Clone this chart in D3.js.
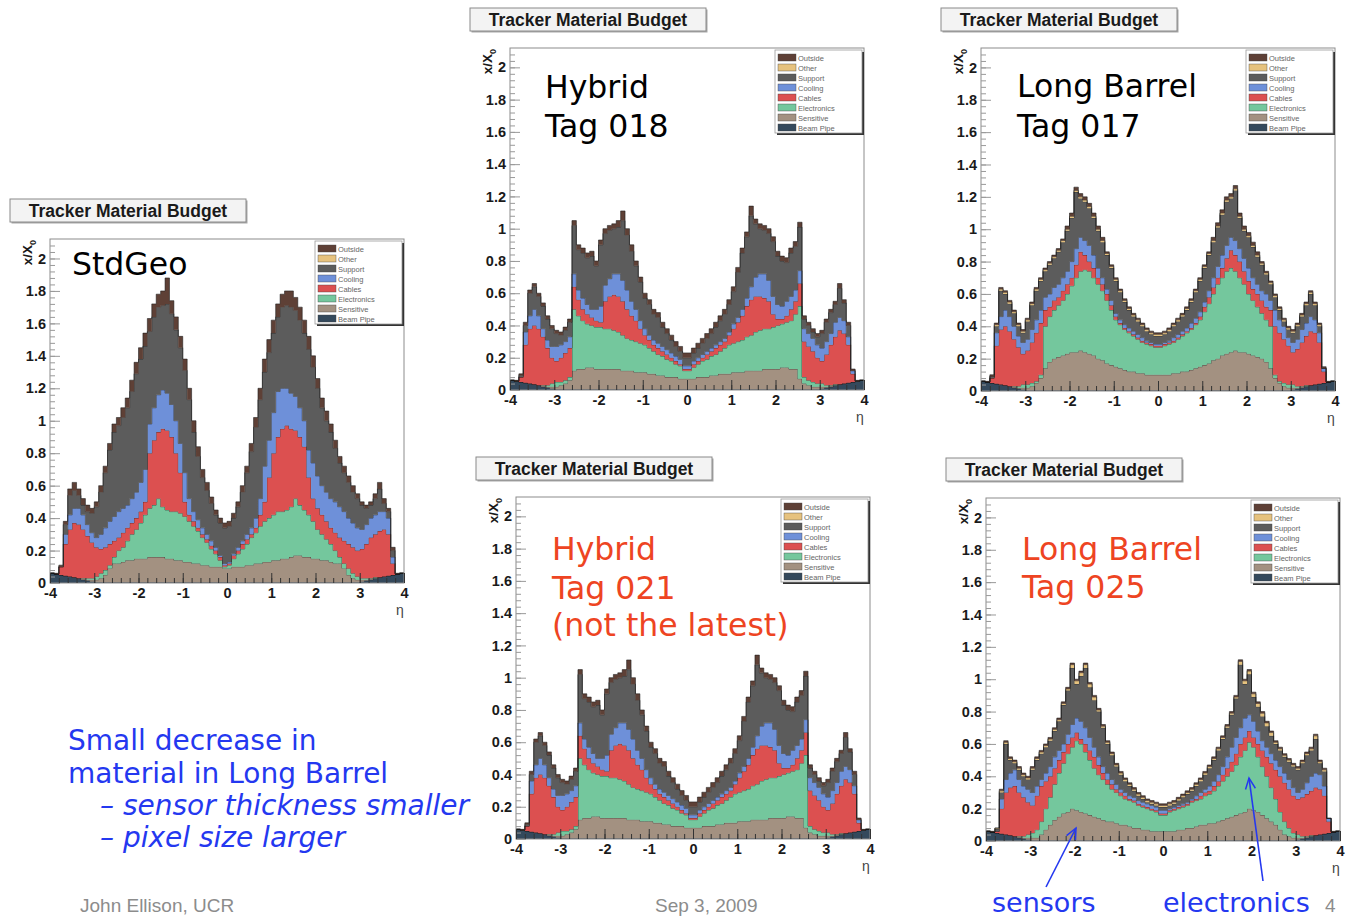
<!DOCTYPE html>
<html>
<head>
<meta charset="utf-8">
<script src="https://cdn.jsdelivr.net/npm/d3@7"></script>
<style>
  body { margin: 0; background: #fff; }
  svg { display: block; }
</style>
</head>
<body>
<div id="chart"></div>
<script>
// histogram binning: 80 bins of 0.1 in eta, from -4 to 4
const etaMin = -4, binStep = 0.1, nBins = 80;

// layer stacking order (bottom to top) and legend order (top to bottom)
const layerNames = ["Beam Pipe", "Sensitive", "Electronics", "Cables", "Cooling", "Support", "Other", "Outside"];
const layerColors = ["#34495c", "#a39181", "#74c79d", "#dc5050", "#6e90d9", "#5c5c5c", "#e6c27e", "#5e4036"];
const legendNames = ["Outside", "Other", "Support", "Cooling", "Cables", "Electronics", "Sensitive", "Beam Pipe"];

const yTicks = [0, 0.2, 0.4, 0.6, 0.8, 1, 1.2, 1.4, 1.6, 1.8, 2];
const xTicks = [-4, -3, -2, -1, 0, 1, 2, 3, 4];

// cumulative tops of each layer (x/X0), one row per unit of eta
const beamPipe = [
  0.06,0.055,0.05,0.045,0.04,0.035,0.03,0.02,0.015,0.01,
  0.005,0.005,0.005,0.005,0.005,0.005,0.005,0.005,0.005,0.005,
  0.005,0.005,0.005,0.005,0.005,0.005,0.005,0.005,0.005,0.005,
  0.005,0.005,0.005,0.005,0.005,0.005,0.005,0.005,0.005,0.005,
  0.005,0.005,0.005,0.005,0.005,0.005,0.005,0.005,0.005,0.005,
  0.005,0.005,0.005,0.005,0.005,0.005,0.005,0.005,0.005,0.005,
  0.005,0.005,0.005,0.005,0.005,0.005,0.005,0.005,0.005,0.005,
  0.01,0.015,0.02,0.03,0.035,0.04,0.045,0.05,0.055,0.06];

// StdGeo
const stdSens = [
  0.06,0.055,0.05,0.045,0.04,0.035,0.03,0.025,0.02,0.02,
  0.02,0.03,0.05,0.09,0.12,0.12,0.13,0.14,0.14,0.15,
  0.15,0.15,0.16,0.16,0.16,0.16,0.15,0.15,0.14,0.14,
  0.13,0.13,0.12,0.12,0.11,0.11,0.1,0.1,0.1,0.09,
  0.09,0.1,0.1,0.1,0.11,0.11,0.12,0.12,0.13,0.13,
  0.14,0.14,0.15,0.15,0.16,0.17,0.17,0.16,0.16,0.15,
  0.15,0.14,0.14,0.13,0.12,0.12,0.09,0.05,0.03,0.02,
  0.02,0.02,0.025,0.03,0.035,0.04,0.045,0.05,0.055,0.06];
const stdElec = [
  0.06,0.055,0.05,0.045,0.04,0.035,0.03,0.03,0.03,0.03,
  0.04,0.06,0.08,0.11,0.16,0.2,0.22,0.26,0.3,0.33,
  0.37,0.42,0.46,0.48,0.52,0.47,0.45,0.44,0.44,0.43,
  0.41,0.38,0.35,0.32,0.28,0.25,0.21,0.18,0.14,0.1,
  0.11,0.15,0.18,0.21,0.24,0.28,0.31,0.35,0.38,0.4,
  0.42,0.44,0.44,0.45,0.47,0.52,0.48,0.45,0.42,0.38,
  0.33,0.3,0.27,0.24,0.2,0.16,0.12,0.09,0.06,0.04,
  0.03,0.03,0.03,0.035,0.035,0.04,0.045,0.05,0.055,0.06];
const stdCab = [
  0.06,0.055,0.1,0.24,0.33,0.37,0.36,0.33,0.29,0.25,
  0.22,0.21,0.22,0.24,0.26,0.28,0.31,0.34,0.37,0.4,
  0.44,0.5,0.8,0.88,0.93,0.95,0.94,0.9,0.8,0.68,
  0.5,0.42,0.38,0.34,0.3,0.27,0.23,0.2,0.16,0.11,
  0.12,0.17,0.2,0.24,0.27,0.3,0.34,0.42,0.5,0.65,
  0.8,0.9,0.95,0.97,0.95,0.94,0.9,0.84,0.65,0.52,
  0.46,0.42,0.38,0.34,0.31,0.28,0.26,0.24,0.22,0.2,
  0.21,0.24,0.28,0.3,0.32,0.33,0.3,0.12,0.055,0.06];
const stdCool = [
  0.06,0.055,0.1,0.3,0.42,0.46,0.46,0.42,0.36,0.31,
  0.28,0.3,0.34,0.38,0.41,0.44,0.46,0.48,0.52,0.56,
  0.62,0.7,0.98,1.08,1.16,1.19,1.17,1.1,1.0,0.86,
  0.68,0.52,0.44,0.39,0.34,0.3,0.26,0.22,0.17,0.12,
  0.13,0.18,0.22,0.26,0.3,0.34,0.4,0.52,0.72,0.88,
  1.05,1.18,1.2,1.2,1.17,1.15,1.08,1.0,0.82,0.74,
  0.66,0.6,0.56,0.52,0.5,0.47,0.44,0.4,0.37,0.34,
  0.33,0.36,0.4,0.42,0.44,0.44,0.4,0.16,0.055,0.06];
const stdSupp = [
  0.06,0.055,0.1,0.36,0.54,0.57,0.54,0.48,0.44,0.43,
  0.47,0.56,0.68,0.82,0.93,0.97,1.02,1.08,1.18,1.29,
  1.38,1.46,1.55,1.64,1.7,1.71,1.72,1.66,1.56,1.45,
  1.31,1.13,0.93,0.78,0.65,0.57,0.49,0.42,0.37,0.34,
  0.35,0.4,0.47,0.56,0.68,0.81,0.96,1.13,1.3,1.42,
  1.54,1.64,1.7,1.71,1.7,1.68,1.62,1.54,1.44,1.33,
  1.2,1.08,1.0,0.93,0.83,0.74,0.68,0.62,0.56,0.52,
  0.48,0.46,0.48,0.52,0.58,0.49,0.44,0.2,0.055,0.06];
const stdOut = [
  0.06,0.06,0.11,0.38,0.58,0.62,0.58,0.52,0.48,0.46,
  0.5,0.6,0.72,0.86,0.98,1.02,1.08,1.14,1.25,1.36,
  1.45,1.54,1.63,1.72,1.78,1.8,1.88,1.74,1.64,1.52,
  1.38,1.2,1.0,0.84,0.7,0.62,0.53,0.45,0.4,0.37,
  0.38,0.43,0.5,0.6,0.72,0.86,1.02,1.2,1.38,1.5,
  1.62,1.72,1.78,1.8,1.8,1.76,1.7,1.62,1.52,1.4,
  1.26,1.14,1.06,0.98,0.88,0.78,0.72,0.66,0.6,0.55,
  0.5,0.48,0.5,0.55,0.62,0.52,0.46,0.22,0.06,0.06];

// Hybrid (tag 018 and tag 021 look the same)
const hybSens = [
  0.06,0.055,0.05,0.045,0.04,0.035,0.03,0.025,0.02,0.02,
  0.02,0.03,0.04,0.06,0.12,0.13,0.13,0.14,0.14,0.13,
  0.13,0.13,0.13,0.13,0.13,0.12,0.12,0.12,0.11,0.11,
  0.11,0.1,0.1,0.09,0.09,0.08,0.08,0.08,0.07,0.07,
  0.07,0.07,0.08,0.08,0.08,0.09,0.09,0.1,0.1,0.1,
  0.11,0.11,0.11,0.12,0.12,0.12,0.12,0.13,0.13,0.13,
  0.13,0.14,0.14,0.13,0.13,0.07,0.04,0.03,0.02,0.02,
  0.02,0.02,0.025,0.03,0.035,0.04,0.045,0.05,0.055,0.06];
const hybElec = [
  0.06,0.055,0.05,0.045,0.04,0.035,0.03,0.03,0.03,0.04,
  0.05,0.05,0.06,0.08,0.5,0.46,0.43,0.41,0.4,0.39,
  0.39,0.38,0.38,0.37,0.36,0.34,0.32,0.31,0.3,0.29,
  0.28,0.26,0.24,0.22,0.21,0.19,0.18,0.16,0.15,0.12,
  0.12,0.14,0.16,0.18,0.19,0.21,0.22,0.24,0.26,0.28,
  0.29,0.3,0.31,0.33,0.34,0.36,0.37,0.38,0.38,0.39,
  0.4,0.41,0.42,0.43,0.47,0.52,0.08,0.06,0.05,0.04,
  0.04,0.03,0.03,0.035,0.035,0.04,0.045,0.05,0.055,0.06];
const hybCab = [
  0.06,0.055,0.08,0.28,0.38,0.4,0.38,0.33,0.26,0.2,
  0.18,0.2,0.23,0.26,0.64,0.56,0.5,0.47,0.45,0.43,
  0.42,0.55,0.58,0.59,0.58,0.55,0.5,0.46,0.43,0.38,
  0.34,0.31,0.28,0.26,0.24,0.22,0.2,0.18,0.16,0.13,
  0.13,0.16,0.18,0.2,0.22,0.24,0.26,0.28,0.3,0.34,
  0.38,0.42,0.46,0.52,0.56,0.58,0.58,0.57,0.55,0.47,
  0.44,0.44,0.46,0.5,0.55,0.66,0.3,0.27,0.24,0.2,
  0.18,0.22,0.28,0.33,0.37,0.35,0.28,0.1,0.055,0.06];
const hybCool = [
  0.06,0.055,0.08,0.36,0.46,0.5,0.46,0.38,0.31,0.27,
  0.27,0.28,0.3,0.33,0.72,0.62,0.57,0.53,0.5,0.5,
  0.52,0.65,0.69,0.72,0.72,0.68,0.62,0.55,0.5,0.43,
  0.38,0.34,0.31,0.29,0.27,0.25,0.23,0.21,0.19,0.15,
  0.15,0.18,0.2,0.22,0.24,0.26,0.28,0.3,0.32,0.36,
  0.41,0.45,0.5,0.57,0.64,0.7,0.72,0.72,0.68,0.58,
  0.53,0.52,0.55,0.58,0.62,0.74,0.38,0.35,0.32,0.28,
  0.26,0.3,0.35,0.42,0.45,0.43,0.33,0.12,0.055,0.06];
const hybSupp = [
  0.06,0.055,0.09,0.4,0.6,0.64,0.58,0.52,0.44,0.38,
  0.35,0.34,0.37,0.42,1.02,0.87,0.85,0.82,0.83,0.77,
  0.9,0.97,0.99,1.0,1.01,1.05,0.96,0.86,0.77,0.67,
  0.57,0.53,0.47,0.45,0.39,0.35,0.31,0.27,0.24,0.2,
  0.2,0.23,0.26,0.29,0.32,0.35,0.39,0.43,0.47,0.53,
  0.61,0.73,0.85,0.95,1.08,1.03,1.0,0.99,0.97,0.92,
  0.83,0.8,0.79,0.85,0.89,1.01,0.44,0.4,0.36,0.33,
  0.35,0.42,0.48,0.53,0.63,0.54,0.4,0.12,0.055,0.06];
const hybOut = [
  0.06,0.06,0.1,0.42,0.62,0.66,0.6,0.54,0.46,0.4,
  0.37,0.36,0.39,0.44,1.05,0.9,0.88,0.85,0.86,0.8,
  0.93,1.0,1.02,1.03,1.05,1.11,1.0,0.9,0.8,0.7,
  0.6,0.56,0.5,0.48,0.42,0.38,0.34,0.3,0.27,0.23,
  0.23,0.26,0.29,0.32,0.35,0.38,0.42,0.46,0.5,0.56,
  0.64,0.76,0.88,0.98,1.14,1.06,1.03,1.02,1.0,0.95,
  0.86,0.83,0.82,0.88,0.92,1.04,0.46,0.42,0.38,0.35,
  0.37,0.44,0.5,0.55,0.66,0.56,0.42,0.13,0.06,0.06];

// Long Barrel tag 017
const lb17Sens = [
  0.06,0.055,0.05,0.045,0.04,0.035,0.03,0.025,0.02,0.02,
  0.02,0.03,0.05,0.08,0.14,0.18,0.2,0.21,0.22,0.23,
  0.24,0.24,0.25,0.24,0.23,0.22,0.2,0.19,0.17,0.16,
  0.15,0.14,0.13,0.12,0.12,0.11,0.11,0.1,0.1,0.1,
  0.1,0.1,0.1,0.11,0.11,0.12,0.12,0.13,0.14,0.15,
  0.16,0.17,0.19,0.2,0.22,0.23,0.24,0.25,0.24,0.24,
  0.23,0.22,0.21,0.2,0.18,0.14,0.08,0.05,0.03,0.02,
  0.02,0.02,0.025,0.03,0.035,0.04,0.045,0.05,0.055,0.06];
const lb17Elec = [
  0.06,0.055,0.05,0.045,0.04,0.035,0.03,0.03,0.03,0.04,
  0.04,0.05,0.06,0.1,0.4,0.46,0.5,0.53,0.56,0.6,
  0.65,0.7,0.74,0.75,0.74,0.7,0.66,0.62,0.56,0.5,
  0.44,0.41,0.38,0.36,0.34,0.32,0.3,0.29,0.28,0.27,
  0.27,0.28,0.29,0.3,0.32,0.34,0.36,0.38,0.41,0.44,
  0.49,0.54,0.6,0.66,0.7,0.74,0.76,0.74,0.7,0.66,
  0.6,0.56,0.52,0.48,0.44,0.4,0.1,0.06,0.05,0.04,
  0.04,0.03,0.03,0.035,0.035,0.04,0.045,0.05,0.055,0.06];
const lb17Cab = [
  0.06,0.055,0.08,0.28,0.38,0.4,0.37,0.32,0.27,0.23,
  0.25,0.3,0.36,0.42,0.5,0.52,0.56,0.58,0.62,0.66,
  0.7,0.78,0.86,0.84,0.8,0.76,0.7,0.66,0.6,0.53,
  0.46,0.42,0.39,0.37,0.35,0.33,0.31,0.3,0.29,0.28,
  0.28,0.29,0.3,0.31,0.33,0.35,0.37,0.39,0.42,0.46,
  0.52,0.58,0.64,0.7,0.76,0.82,0.87,0.84,0.8,0.74,
  0.68,0.63,0.6,0.56,0.52,0.5,0.4,0.36,0.32,0.28,
  0.24,0.26,0.3,0.34,0.37,0.36,0.3,0.12,0.055,0.06];
const lb17Cool = [
  0.06,0.055,0.08,0.36,0.46,0.5,0.46,0.4,0.34,0.3,
  0.32,0.38,0.44,0.5,0.58,0.6,0.64,0.66,0.7,0.74,
  0.8,0.88,0.95,0.93,0.9,0.84,0.76,0.7,0.63,0.56,
  0.48,0.44,0.41,0.39,0.37,0.35,0.33,0.31,0.3,0.29,
  0.29,0.3,0.31,0.33,0.35,0.37,0.39,0.42,0.45,0.49,
  0.55,0.62,0.7,0.77,0.84,0.9,0.95,0.93,0.88,0.82,
  0.76,0.7,0.66,0.62,0.6,0.56,0.5,0.44,0.4,0.33,
  0.3,0.32,0.38,0.42,0.46,0.44,0.36,0.14,0.055,0.06];
const lb17Supp = [
  0.06,0.055,0.09,0.4,0.62,0.6,0.54,0.48,0.4,0.36,
  0.43,0.53,0.62,0.68,0.74,0.78,0.82,0.86,0.92,0.99,
  1.07,1.23,1.19,1.17,1.13,1.07,0.99,0.92,0.84,0.76,
  0.68,0.61,0.55,0.5,0.46,0.43,0.4,0.37,0.35,0.34,
  0.34,0.35,0.37,0.4,0.43,0.46,0.5,0.55,0.61,0.68,
  0.76,0.84,0.92,1.01,1.09,1.17,1.19,1.24,1.07,0.99,
  0.95,0.89,0.83,0.78,0.72,0.66,0.58,0.5,0.43,0.38,
  0.36,0.4,0.46,0.53,0.6,0.53,0.4,0.14,0.055,0.06];
const lb17Other = [
  0.06,0.055,0.09,0.41,0.63,0.61,0.55,0.49,0.41,0.37,
  0.44,0.54,0.63,0.69,0.75,0.79,0.83,0.87,0.93,1.0,
  1.08,1.24,1.2,1.18,1.14,1.08,1.0,0.93,0.85,0.77,
  0.69,0.62,0.56,0.51,0.47,0.44,0.41,0.38,0.36,0.35,
  0.35,0.36,0.38,0.41,0.44,0.47,0.51,0.56,0.62,0.69,
  0.77,0.85,0.93,1.02,1.1,1.18,1.2,1.25,1.08,1.0,
  0.96,0.9,0.84,0.79,0.73,0.67,0.59,0.51,0.44,0.39,
  0.37,0.41,0.47,0.54,0.61,0.54,0.41,0.14,0.055,0.06];
const lb17Out = [
  0.06,0.06,0.1,0.42,0.64,0.62,0.56,0.5,0.42,0.38,
  0.45,0.55,0.64,0.7,0.76,0.8,0.84,0.88,0.94,1.02,
  1.1,1.26,1.22,1.2,1.16,1.1,1.02,0.95,0.86,0.78,
  0.7,0.63,0.57,0.52,0.48,0.45,0.42,0.39,0.37,0.36,
  0.36,0.37,0.39,0.42,0.45,0.48,0.52,0.57,0.63,0.7,
  0.78,0.86,0.95,1.04,1.12,1.2,1.22,1.27,1.1,1.02,
  0.98,0.92,0.86,0.8,0.74,0.68,0.6,0.52,0.45,0.4,
  0.38,0.42,0.48,0.55,0.62,0.55,0.42,0.15,0.06,0.06];

// Long Barrel tag 025
const lb25Sens = [
  0.06,0.055,0.05,0.045,0.04,0.035,0.03,0.025,0.02,0.02,
  0.02,0.02,0.04,0.07,0.1,0.13,0.15,0.17,0.18,0.2,
  0.19,0.18,0.17,0.16,0.15,0.14,0.13,0.12,0.12,0.11,
  0.1,0.1,0.09,0.08,0.08,0.07,0.07,0.06,0.06,0.06,
  0.06,0.06,0.06,0.07,0.07,0.08,0.08,0.09,0.1,0.1,
  0.11,0.11,0.12,0.13,0.14,0.15,0.16,0.17,0.18,0.2,
  0.19,0.18,0.16,0.14,0.12,0.1,0.07,0.04,0.03,0.02,
  0.02,0.02,0.025,0.03,0.035,0.04,0.045,0.05,0.055,0.06];
const lb25Elec = [
  0.06,0.055,0.05,0.045,0.04,0.035,0.03,0.03,0.03,0.04,
  0.05,0.07,0.12,0.2,0.27,0.35,0.42,0.48,0.54,0.58,
  0.62,0.6,0.55,0.5,0.45,0.41,0.38,0.35,0.32,0.3,
  0.28,0.26,0.25,0.24,0.22,0.21,0.2,0.19,0.18,0.16,
  0.16,0.18,0.19,0.2,0.21,0.22,0.24,0.25,0.26,0.28,
  0.29,0.31,0.34,0.37,0.4,0.43,0.47,0.52,0.56,0.61,
  0.58,0.52,0.46,0.4,0.33,0.26,0.18,0.12,0.08,0.05,
  0.04,0.03,0.03,0.035,0.035,0.04,0.045,0.05,0.055,0.06];
const lb25Cab = [
  0.06,0.055,0.06,0.2,0.3,0.33,0.34,0.3,0.27,0.24,
  0.22,0.28,0.34,0.37,0.4,0.45,0.5,0.55,0.6,0.64,
  0.67,0.63,0.6,0.56,0.52,0.47,0.42,0.38,0.35,0.32,
  0.3,0.28,0.26,0.25,0.23,0.22,0.21,0.2,0.19,0.17,
  0.17,0.19,0.2,0.21,0.22,0.23,0.25,0.26,0.28,0.3,
  0.31,0.34,0.37,0.41,0.45,0.49,0.54,0.6,0.64,0.68,
  0.64,0.6,0.56,0.52,0.48,0.44,0.4,0.36,0.32,0.28,
  0.26,0.27,0.29,0.31,0.33,0.32,0.28,0.12,0.055,0.06];
const lb25Cool = [
  0.06,0.055,0.06,0.26,0.38,0.42,0.44,0.38,0.34,0.32,
  0.3,0.34,0.38,0.42,0.46,0.52,0.56,0.6,0.66,0.72,
  0.76,0.74,0.7,0.64,0.58,0.52,0.46,0.42,0.38,0.35,
  0.32,0.3,0.28,0.27,0.25,0.24,0.23,0.22,0.21,0.19,
  0.19,0.2,0.21,0.22,0.23,0.24,0.26,0.28,0.3,0.32,
  0.34,0.37,0.41,0.46,0.52,0.58,0.64,0.7,0.76,0.78,
  0.74,0.68,0.62,0.58,0.54,0.5,0.46,0.42,0.38,0.33,
  0.3,0.32,0.36,0.4,0.42,0.41,0.34,0.14,0.055,0.06];
const lb25Supp = [
  0.06,0.055,0.075,0.3,0.6,0.5,0.48,0.44,0.4,0.38,
  0.44,0.5,0.54,0.58,0.62,0.68,0.74,0.84,0.93,1.07,
  0.97,1.02,1.07,0.95,0.87,0.8,0.7,0.6,0.53,0.46,
  0.41,0.37,0.34,0.31,0.28,0.26,0.24,0.23,0.22,0.21,
  0.21,0.22,0.23,0.25,0.27,0.29,0.31,0.34,0.37,0.41,
  0.45,0.5,0.56,0.63,0.7,0.78,0.88,1.09,0.97,1.03,
  0.89,0.83,0.77,0.71,0.65,0.6,0.56,0.52,0.49,0.46,
  0.44,0.48,0.53,0.56,0.63,0.48,0.43,0.14,0.055,0.06];
const lb25Other = [
  0.06,0.055,0.08,0.31,0.61,0.51,0.49,0.45,0.41,0.39,
  0.45,0.51,0.55,0.59,0.63,0.69,0.75,0.85,0.94,1.09,
  0.99,1.04,1.09,0.97,0.89,0.81,0.71,0.61,0.54,0.47,
  0.42,0.38,0.35,0.32,0.29,0.27,0.25,0.24,0.23,0.22,
  0.22,0.23,0.24,0.26,0.28,0.3,0.32,0.35,0.38,0.42,
  0.46,0.51,0.57,0.64,0.71,0.79,0.89,1.11,0.99,1.05,
  0.91,0.85,0.79,0.73,0.67,0.61,0.57,0.53,0.5,0.47,
  0.45,0.49,0.54,0.57,0.65,0.49,0.44,0.14,0.055,0.06];
const lb25Out = [
  0.06,0.06,0.08,0.32,0.62,0.52,0.5,0.46,0.42,0.4,
  0.46,0.52,0.56,0.6,0.64,0.7,0.76,0.86,0.95,1.1,
  1.0,1.05,1.1,0.98,0.9,0.82,0.72,0.62,0.55,0.48,
  0.43,0.39,0.36,0.33,0.3,0.28,0.26,0.25,0.24,0.23,
  0.23,0.24,0.25,0.27,0.29,0.31,0.33,0.36,0.39,0.43,
  0.47,0.52,0.58,0.65,0.72,0.8,0.9,1.12,1.0,1.06,
  0.92,0.86,0.8,0.74,0.68,0.62,0.58,0.54,0.51,0.48,
  0.46,0.5,0.55,0.58,0.66,0.5,0.45,0.14,0.06,0.06];

const W = 1347, H = 919;
const red = "#ee4422", blue = "#2438f0";

const panels = [
  { left: 50, top: 239, right: 404, bottom: 583,
    tops: [beamPipe, stdSens, stdElec, stdCab, stdCool, stdSupp, null, stdOut],
    label: ["StdGeo"], color: "#000", lx: 72, ly: [275] },
  { left: 510, top: 48, right: 864, bottom: 390,
    tops: [beamPipe, hybSens, hybElec, hybCab, hybCool, hybSupp, null, hybOut],
    label: ["Hybrid", "Tag 018"], color: "#000", lx: 545, ly: [98, 137] },
  { left: 981, top: 48, right: 1335, bottom: 391,
    tops: [beamPipe, lb17Sens, lb17Elec, lb17Cab, lb17Cool, lb17Supp, lb17Other, lb17Out],
    label: ["Long Barrel", "Tag 017"], color: "#000", lx: 1017, ly: [97, 137] },
  { left: 516, top: 497, right: 870, bottom: 839,
    tops: [beamPipe, hybSens, hybElec, hybCab, hybCool, hybSupp, null, hybOut],
    label: ["Hybrid", "Tag 021", "(not the latest)"], color: red, lx: 552, ly: [560, 599, 636] },
  { left: 986, top: 498, right: 1340, bottom: 841,
    tops: [beamPipe, lb25Sens, lb25Elec, lb25Cab, lb25Cool, lb25Supp, lb25Other, lb25Out],
    label: ["Long Barrel", "Tag 025"], color: red, lx: 1022, ly: [560, 598] }
];

const svg = d3.select("#chart").append("svg")
  .attr("width", W).attr("height", H)
  .style("font-family", "'Liberation Sans', Arial, sans-serif");

svg.append("rect").attr("width", W).attr("height", H).attr("fill", "#fff");

const edges = d3.range(nBins + 1).map(i => ({ eta: etaMin + i * binStep, j: Math.min(i, nBins - 1) }));

function drawPanel(p) {
  const x = d3.scaleLinear().domain([-4, 4]).range([p.left, p.right]);
  const y = d3.scaleLinear().domain([0, 2.12]).range([p.bottom, p.top]);
  const g = svg.append("g");

  // title box
  g.append("rect").attr("x", p.left - 38.5).attr("y", p.top - 38.5).attr("width", 236).attr("height", 23)
    .attr("fill", "#a8a8a8");
  g.append("rect").attr("x", p.left - 40).attr("y", p.top - 40).attr("width", 236).attr("height", 23)
    .attr("fill", "#f3f3f3").attr("stroke", "#8a8a8a").attr("stroke-width", 1);
  g.append("text").attr("x", p.left - 40 + 118).attr("y", p.top - 40 + 17.5)
    .attr("text-anchor", "middle").attr("font-weight", "bold").attr("font-size", 17.5)
    .attr("fill", "#1a1a1a").text("Tracker Material Budget");

  // stacked histogram
  let prev = new Array(nBins).fill(0);
  p.tops.forEach((t, k) => {
    const cur = t ? t.map((v, j) => Math.max(v, prev[j])) : prev.slice();
    const lo = prev;
    const area = d3.area().curve(d3.curveStepAfter)
      .x(d => x(d.eta)).y0(d => y(lo[d.j])).y1(d => y(cur[d.j]));
    g.append("path").datum(edges).attr("d", area).attr("fill", layerColors[k]);
    if (t) {
      const line = d3.line().curve(d3.curveStepAfter).x(d => x(d.eta)).y(d => y(cur[d.j]));
      g.append("path").datum(edges).attr("d", line).attr("fill", "none")
        .attr("stroke", "rgba(25,25,25,0.6)").attr("stroke-width", 0.9);
    }
    prev = cur;
  });

  // frame
  g.append("rect").attr("x", p.left).attr("y", p.top)
    .attr("width", p.right - p.left).attr("height", p.bottom - p.top)
    .attr("fill", "none").attr("stroke", "#8c8c8c").attr("stroke-width", 1);

  // axes
  const yMajor = g.append("g").attr("transform", `translate(${p.left},0)`)
    .call(d3.axisLeft(y).tickValues(yTicks).tickSize(-10).tickPadding(4)
      .tickFormat(d => d3.format("~g")(d)));
  const yMinor = g.append("g").attr("transform", `translate(${p.left},0)`)
    .call(d3.axisLeft(y).tickValues(d3.range(0, 53).map(i => i * 0.04)).tickSize(-5).tickFormat(""));
  const xMajor = g.append("g").attr("transform", `translate(0,${p.bottom})`)
    .call(d3.axisBottom(x).tickValues(xTicks).tickSize(-10).tickPadding(5).tickFormat(d => String(d)));
  const xMinor = g.append("g").attr("transform", `translate(0,${p.bottom})`)
    .call(d3.axisBottom(x).tickValues(d3.range(-20, 21).map(i => i * 0.2)).tickSize(-5).tickFormat(""));
  [yMajor, yMinor, xMajor, xMinor].forEach(a => {
    a.select(".domain").remove();
    a.selectAll("text").attr("font-size", 14.5).attr("font-weight", "bold")
      .attr("font-family", "'Liberation Sans', Arial, sans-serif").attr("fill", "#1a1a1a");
  });
  [yMajor, yMinor].forEach(a => a.selectAll("line").attr("stroke", "#999").attr("stroke-width", 1));
  [xMajor, xMinor].forEach(a => a.selectAll("line").attr("stroke", "#333").attr("stroke-width", 1));

  // axis titles
  const yt = g.append("text")
    .attr("transform", `translate(${p.left - 18},${p.top + 1}) rotate(-90)`)
    .attr("text-anchor", "end").attr("font-weight", "bold").attr("font-size", 13.5).attr("fill", "#1a1a1a");
  yt.append("tspan").text("x/X");
  yt.append("tspan").attr("font-size", 9).attr("dy", 4).text("0");
  g.append("text").attr("x", p.right - 4).attr("y", p.bottom + 32)
    .attr("text-anchor", "middle").attr("font-size", 14).attr("fill", "#444").text("η");

  // legend
  const lx = p.right - 89, ly = p.top + 2;
  g.append("rect").attr("x", lx + 2).attr("y", ly + 2).attr("width", 87).attr("height", 83).attr("fill", "#333");
  g.append("rect").attr("x", lx).attr("y", ly).attr("width", 87).attr("height", 83)
    .attr("fill", "#fff").attr("stroke", "#9a9a9a").attr("stroke-width", 0.8);
  legendNames.forEach((name, i) => {
    const k = layerNames.indexOf(name);
    g.append("rect").attr("x", lx + 3).attr("y", ly + 4 + i * 10).attr("width", 18).attr("height", 7)
      .attr("fill", layerColors[k]).attr("stroke", "#444").attr("stroke-width", 0.4);
    g.append("text").attr("x", lx + 23).attr("y", ly + 10.5 + i * 10)
      .attr("font-size", 7.5).attr("fill", "#666").text(name);
  });

  // panel label
  p.label.forEach((s, i) => {
    g.append("text").attr("x", p.lx).attr("y", p.ly[i])
      .attr("font-family", "'DejaVu Sans', Verdana, sans-serif").attr("font-size", 31.5)
      .attr("fill", p.color).text(s);
  });
}

panels.forEach(drawPanel);

// slide text
const note = svg.append("g").attr("font-family", "'DejaVu Sans', Verdana, sans-serif")
  .attr("font-size", 28).attr("fill", blue);
note.append("text").attr("x", 68).attr("y", 750).text("Small decrease in");
note.append("text").attr("x", 68).attr("y", 783).text("material in Long Barrel");
note.append("text").attr("x", 100).attr("y", 815).attr("font-style", "italic").text("– sensor thickness smaller");
note.append("text").attr("x", 100).attr("y", 847).attr("font-style", "italic").text("– pixel size larger");

// annotations with arrows
svg.append("defs").append("marker").attr("id", "arrow")
  .attr("viewBox", "-12 -6 14 12").attr("refX", 0).attr("refY", 0)
  .attr("markerWidth", 14).attr("markerHeight", 12).attr("markerUnits", "userSpaceOnUse")
  .attr("orient", "auto")
  .append("path").attr("d", "M-11,-5 L0,0 L-11,5").attr("fill", "none")
  .attr("stroke", blue).attr("stroke-width", 1.5);
svg.append("line").attr("x1", 1046).attr("y1", 887).attr("x2", 1076).attr("y2", 828)
  .attr("stroke", blue).attr("stroke-width", 1.6).attr("marker-end", "url(#arrow)");
svg.append("line").attr("x1", 1263).attr("y1", 881).attr("x2", 1249).attr("y2", 778)
  .attr("stroke", blue).attr("stroke-width", 1.6).attr("marker-end", "url(#arrow)");
const ann = svg.append("g").attr("font-family", "'DejaVu Sans', Verdana, sans-serif")
  .attr("font-size", 27).attr("fill", blue);
ann.append("text").attr("x", 992).attr("y", 912).text("sensors");
ann.append("text").attr("x", 1163).attr("y", 912).text("electronics");

// footer
const foot = svg.append("g").attr("font-size", 19).attr("fill", "#8c8c8c");
foot.append("text").attr("x", 80).attr("y", 912).text("John Ellison, UCR");
foot.append("text").attr("x", 655).attr("y", 912).text("Sep 3, 2009");
foot.append("text").attr("x", 1325).attr("y", 912).text("4");
</script>
</body>
</html>
